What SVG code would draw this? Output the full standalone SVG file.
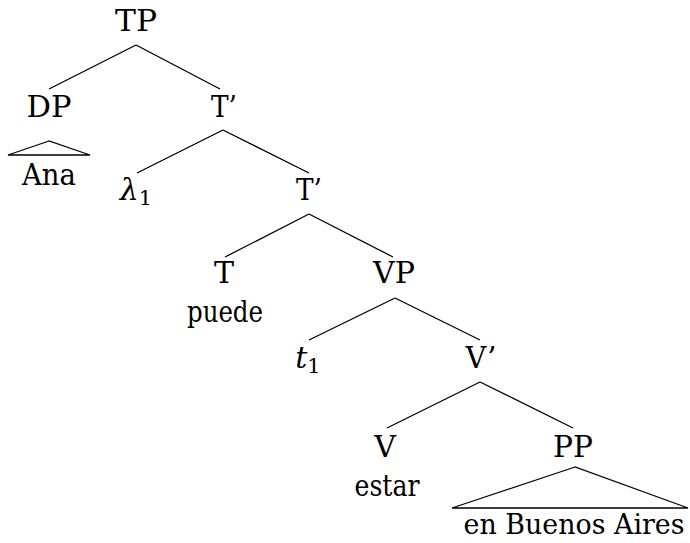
<svg xmlns="http://www.w3.org/2000/svg" width="690" height="543" viewBox="0 0 690 543">
<style>
text{font-family:"DejaVu Serif",serif;font-size:30px;fill:#000;text-anchor:middle}
.i{font-style:italic}
.s{font-size:21px;font-style:normal}
.e line,.e polygon{stroke:#000;stroke-width:1.3;fill:none}
</style>
<rect width="690" height="543" fill="#fff"/>
<g id="connectors" class="e">
<line x1="136" y1="45" x2="49" y2="89"/>
<line x1="136" y1="45" x2="220" y2="89"/>
<polygon points="49,141 8,155 90,155"/>
<line x1="223" y1="130" x2="137" y2="173"/>
<line x1="223" y1="130" x2="309" y2="173"/>
<line x1="309" y1="214" x2="225" y2="257"/>
<line x1="309" y1="214" x2="393" y2="257"/>
<line x1="395" y1="298" x2="309" y2="340"/>
<line x1="395" y1="298" x2="480" y2="340"/>
<line x1="480" y1="382" x2="387" y2="428"/>
<line x1="480" y1="382" x2="573" y2="428"/>
<polygon points="575,467 452,508 688,508"/>
</g>
<g id="TP"><text x="136" y="31" textLength="42" lengthAdjust="spacingAndGlyphs">TP</text></g>
<g id="DP"><text x="49" y="117" textLength="45" lengthAdjust="spacingAndGlyphs">DP</text></g>
<g id="Ana"><text x="49" y="185" textLength="54" lengthAdjust="spacingAndGlyphs">Ana</text></g>
<g id="Tbar1"><text x="224" y="117" textLength="26" lengthAdjust="spacingAndGlyphs">T’</text></g>
<g id="lambda"><text x="136" y="200" class="i">λ<tspan class="s" dy="5">1</tspan></text></g>
<g id="Tbar2"><text x="309" y="200" textLength="26" lengthAdjust="spacingAndGlyphs">T’</text></g>
<g id="T"><text x="224" y="283">T</text></g>
<g id="puede"><text x="225" y="322" textLength="76" lengthAdjust="spacingAndGlyphs">puede</text></g>
<g id="VP"><text x="394" y="283" textLength="42" lengthAdjust="spacingAndGlyphs">VP</text></g>
<g id="t1"><text x="308" y="368" class="i">t<tspan class="s" dy="5">1</tspan></text></g>
<g id="Vbar"><text x="481" y="368" textLength="31" lengthAdjust="spacingAndGlyphs">V’</text></g>
<g id="V"><text x="385" y="457">V</text></g>
<g id="estar"><text x="387" y="496" textLength="65" lengthAdjust="spacingAndGlyphs">estar</text></g>
<g id="PP"><text x="573" y="457" textLength="40" lengthAdjust="spacingAndGlyphs">PP</text></g>
<g id="enBA"><text x="574" y="534" style="font-size:28px" textLength="221" lengthAdjust="spacingAndGlyphs">en Buenos Aires</text></g>
</svg>
